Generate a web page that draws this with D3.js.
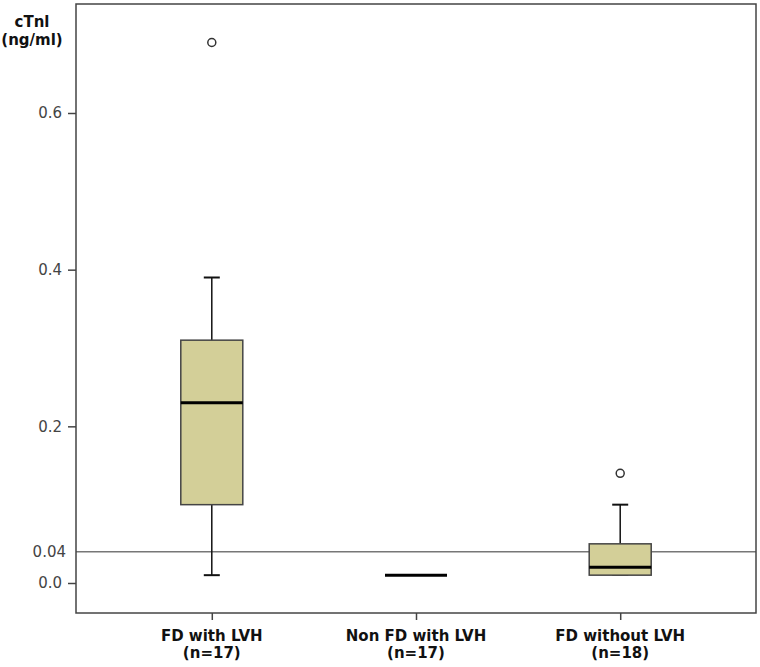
<!DOCTYPE html>
<html><head><meta charset="utf-8">
<script src="https://cdn.jsdelivr.net/npm/d3@7"></script>
<style>body{margin:0;background:#fff;} svg{display:block;}</style>
</head><body>
<svg id="c" width="760" height="667"></svg>
<script>
const categories = ["FD with LVH", "Non FD with LVH", "FD without LVH"];
const sampleSizes = ["(n=17)", "(n=17)", "(n=18)"];
const whiskerLow = [0.01, 0.01, 0.01];
const q1 = [0.10, 0.01, 0.01];
const median = [0.23, 0.01, 0.02];
const q3 = [0.31, 0.01, 0.05];
const whiskerHigh = [0.39, 0.01, 0.10];
const outliers = [[0.69], [], [0.14]];
const yTicks = [0.0, 0.2, 0.4, 0.6];
const refValue = 0.04;

const FONT = "DejaVu Sans, Verdana, sans-serif";
const svg = d3.select("#c");
const L = 76, R = 756, T = 4, B = 613;
const y = d3.scaleLinear().domain([0, 0.6]).range([583, 113]);
const x = d3.scalePoint().domain(categories).range([L, R]).padding(0.665);
const boxW = 62, capW = 16;
const fill = "#d3cf98";

// reference line
svg.append("line").attr("x1", L).attr("x2", R).attr("y1", y(refValue)).attr("y2", y(refValue))
  .attr("stroke", "#777").attr("stroke-width", 1.5);
svg.append("text").attr("x", 66).attr("y", y(refValue)).attr("dy", "0.36em")
  .attr("text-anchor", "end").attr("font-family", FONT)
  .attr("font-size", 15).attr("fill", "#444").text(refValue.toFixed(2));

// boxes
categories.forEach((c, i) => {
  const cx = x(c);
  const g = svg.append("g");
  if (whiskerHigh[i] > q3[i]) {
    g.append("line").attr("x1", cx).attr("x2", cx).attr("y1", y(q3[i])).attr("y2", y(whiskerHigh[i])).attr("stroke", "#111").attr("stroke-width", 1.5);
    g.append("line").attr("x1", cx - capW/2).attr("x2", cx + capW/2).attr("y1", y(whiskerHigh[i])).attr("y2", y(whiskerHigh[i])).attr("stroke", "#111").attr("stroke-width", 2);
  }
  if (whiskerLow[i] < q1[i]) {
    g.append("line").attr("x1", cx).attr("x2", cx).attr("y1", y(q1[i])).attr("y2", y(whiskerLow[i])).attr("stroke", "#111").attr("stroke-width", 1.5);
    g.append("line").attr("x1", cx - capW/2).attr("x2", cx + capW/2).attr("y1", y(whiskerLow[i])).attr("y2", y(whiskerLow[i])).attr("stroke", "#111").attr("stroke-width", 2);
  } else {
    g.append("line").attr("x1", cx - capW/2).attr("x2", cx + capW/2).attr("y1", y(whiskerLow[i])).attr("y2", y(whiskerLow[i])).attr("stroke", "#555").attr("stroke-width", 1.5);
  }
  if (q3[i] > q1[i]) {
    g.append("rect").attr("x", cx - boxW/2).attr("width", boxW).attr("y", y(q3[i])).attr("height", y(q1[i]) - y(q3[i]))
      .attr("fill", fill).attr("stroke", "#444").attr("stroke-width", 1.5);
  }
  g.append("line").attr("x1", cx - boxW/2).attr("x2", cx + boxW/2).attr("y1", y(median[i])).attr("y2", y(median[i]))
    .attr("stroke", "#000").attr("stroke-width", 3);
  outliers[i].forEach(v => {
    g.append("circle").attr("cx", cx).attr("cy", y(v)).attr("r", 4).attr("fill", "#fff").attr("stroke", "#333").attr("stroke-width", 1.5);
  });
});

// frame
svg.append("rect").attr("x", L).attr("y", T).attr("width", R - L).attr("height", B - T)
  .attr("fill", "none").attr("stroke", "#444").attr("stroke-width", 1.5);

// y axis
const yAxis = d3.axisLeft(y).tickValues(yTicks).tickFormat(d3.format(".1f")).tickSize(8).tickPadding(6);
const ya = svg.append("g").attr("transform", `translate(${L},0)`).call(yAxis);
ya.select(".domain").remove();
ya.selectAll(".tick line").attr("stroke", "#444").attr("stroke-width", 1.5);
ya.selectAll(".tick text").attr("font-family", FONT).attr("font-size", 15).attr("fill", "#444");

// x axis
const xAxis = d3.axisBottom(x).tickSize(7).tickFormat("");
const xa = svg.append("g").attr("transform", `translate(0,${B})`).call(xAxis);
xa.select(".domain").remove();
xa.selectAll(".tick line").attr("stroke", "#444").attr("stroke-width", 1.5);
categories.forEach((c, i) => {
  const t = svg.append("text").attr("x", x(c)).attr("text-anchor", "middle")
    .attr("font-family", FONT).attr("font-weight", "bold").attr("font-size", 15).attr("fill", "#111");
  t.append("tspan").attr("x", x(c)).attr("y", 641).text(c);
  t.append("tspan").attr("x", x(c)).attr("y", 658).text(sampleSizes[i]);
});

// y title
const yt = svg.append("text").attr("text-anchor", "middle")
  .attr("font-family", FONT).attr("font-weight", "bold").attr("font-size", 15).attr("fill", "#111");
yt.append("tspan").attr("x", 32).attr("y", 27).text("cTnl");
yt.append("tspan").attr("x", 32).attr("y", 45).text("(ng/ml)");
</script>
</body></html>
